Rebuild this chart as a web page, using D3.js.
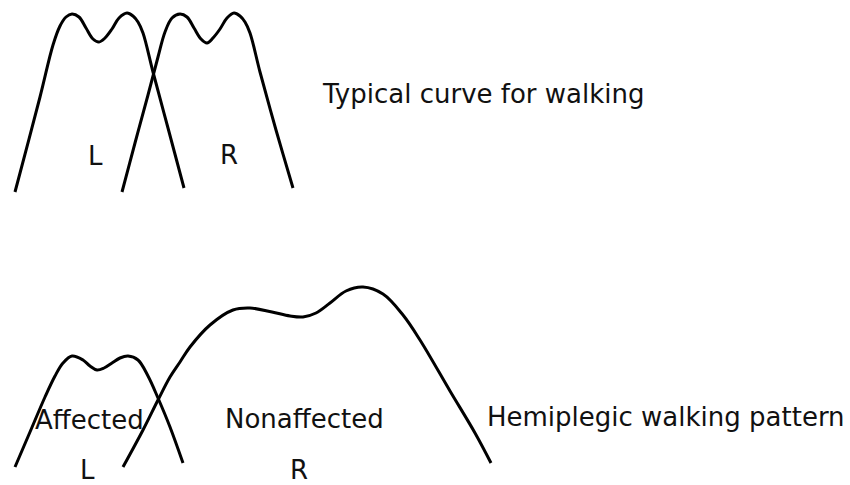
<!DOCTYPE html>
<html>
<head>
<meta charset="utf-8">
<script src="https://cdn.jsdelivr.net/npm/d3@7/dist/d3.min.js"></script>
<style>
  html, body { margin: 0; padding: 0; background: #fff; }
  svg { display: block; }
  text { font-family: "DejaVu Sans", Verdana, sans-serif; fill: #111; }
</style>
</head>
<body>
<svg id="chart" width="850" height="485"></svg>
<script>
// Ground reaction force over time, left and right foot.
// Time in frame units, force in arbitrary units above the baseline.

// Typical walking: left foot
const typicalLeftTime  = [15, 40, 53, 60, 66, 72, 79, 86, 93, 99, 105, 112, 119, 127, 133, 138, 143, 153, 168, 184];
const typicalLeftForce = [0, 95, 147, 166, 175, 178, 175, 164, 153, 150, 154, 163, 174, 179, 176, 170, 159, 120, 64, 4];

// Typical walking: right foot
const typicalRightTime  = [122, 135, 148, 158, 165, 172, 180, 187, 194, 201, 207, 213, 220, 227, 234, 240, 245, 250, 260, 276, 293];
const typicalRightForce = [0, 49, 97, 135, 160, 174, 178, 175, 164, 153, 149, 154, 163, 174, 179, 176, 170, 159, 120, 62, 4];

// Hemiplegic walking: affected (left) foot
const affectedTime  = [15, 30, 45, 55, 63, 72, 83, 90, 97, 104, 112, 120, 128, 138, 148, 158, 170, 183];
const affectedForce = [0, 35, 70, 91, 104, 111, 107, 101, 97, 99, 104, 109, 111, 107, 91, 69, 40, 4];

// Hemiplegic walking: nonaffected (right) foot
const nonaffectedTime  = [123, 143, 158, 170, 180, 190, 210, 233, 250, 272, 290, 303, 316, 330, 346, 363, 383, 403, 420, 450, 475, 491];
const nonaffectedForce = [0, 37, 67, 90, 105, 120, 142, 157, 159, 155, 151, 150, 154, 164, 176, 180, 173, 152, 127, 76, 34, 4];

// Foot labels: text, time, force
const typicalLabels = [
  { text: "L", t: 88, f: 27 },
  { text: "R", t: 220, f: 28 }
];
const hemiplegicLabels = [
  { text: "Affected", t: 35, f: 38 },
  { text: "Nonaffected", t: 225, f: 39 },
  { text: "L", t: 80, f: -12 },
  { text: "R", t: 290, f: -12 }
];

// Pattern captions
const captions = ["Typical curve for walking", "Hemiplegic walking pattern"];
const captionTime = [323, 487];

const svg = d3.select("#chart");
svg.append("rect").attr("width", 850).attr("height", 485).attr("fill", "#fff");

const x = d3.scaleLinear().domain([0, 850]).range([0, 850]);
const yTop = d3.scaleLinear().domain([0, 180]).range([192, 12]);
const yBottom = d3.scaleLinear().domain([0, 180]).range([467, 287]);

function zip(ts, fs) { return ts.map((t, i) => [t, fs[i]]); }

function drawCurve(g, y, ts, fs) {
  const line = d3.line()
    .x(d => x(d[0]))
    .y(d => y(d[1]))
    .curve(d3.curveCatmullRom.alpha(0.5));
  g.append("path")
    .datum(zip(ts, fs))
    .attr("d", line)
    .attr("fill", "none")
    .attr("stroke", "#000")
    .attr("stroke-width", 3)
    .attr("stroke-linejoin", "round")
    .attr("stroke-linecap", "butt");
}

function drawLabels(g, y, labels) {
  g.selectAll("text.label")
    .data(labels)
    .join("text")
    .attr("class", "label")
    .attr("x", d => x(d.t))
    .attr("y", d => y(d.f))
    .attr("font-size", 26)
    .text(d => d.text);
}

// Typical panel
const gTop = svg.append("g");
drawCurve(gTop, yTop, typicalLeftTime, typicalLeftForce);
drawCurve(gTop, yTop, typicalRightTime, typicalRightForce);
drawLabels(gTop, yTop, typicalLabels);
gTop.append("text")
  .attr("x", x(captionTime[0]))
  .attr("y", yTop(89))
  .attr("font-size", 26)
  .text(captions[0]);

// Hemiplegic panel
const gBottom = svg.append("g");
drawCurve(gBottom, yBottom, affectedTime, affectedForce);
drawCurve(gBottom, yBottom, nonaffectedTime, nonaffectedForce);
drawLabels(gBottom, yBottom, hemiplegicLabels);
gBottom.append("text")
  .attr("x", x(captionTime[1]))
  .attr("y", yBottom(41))
  .attr("font-size", 26)
  .text(captions[1]);
</script>
</body>
</html>
